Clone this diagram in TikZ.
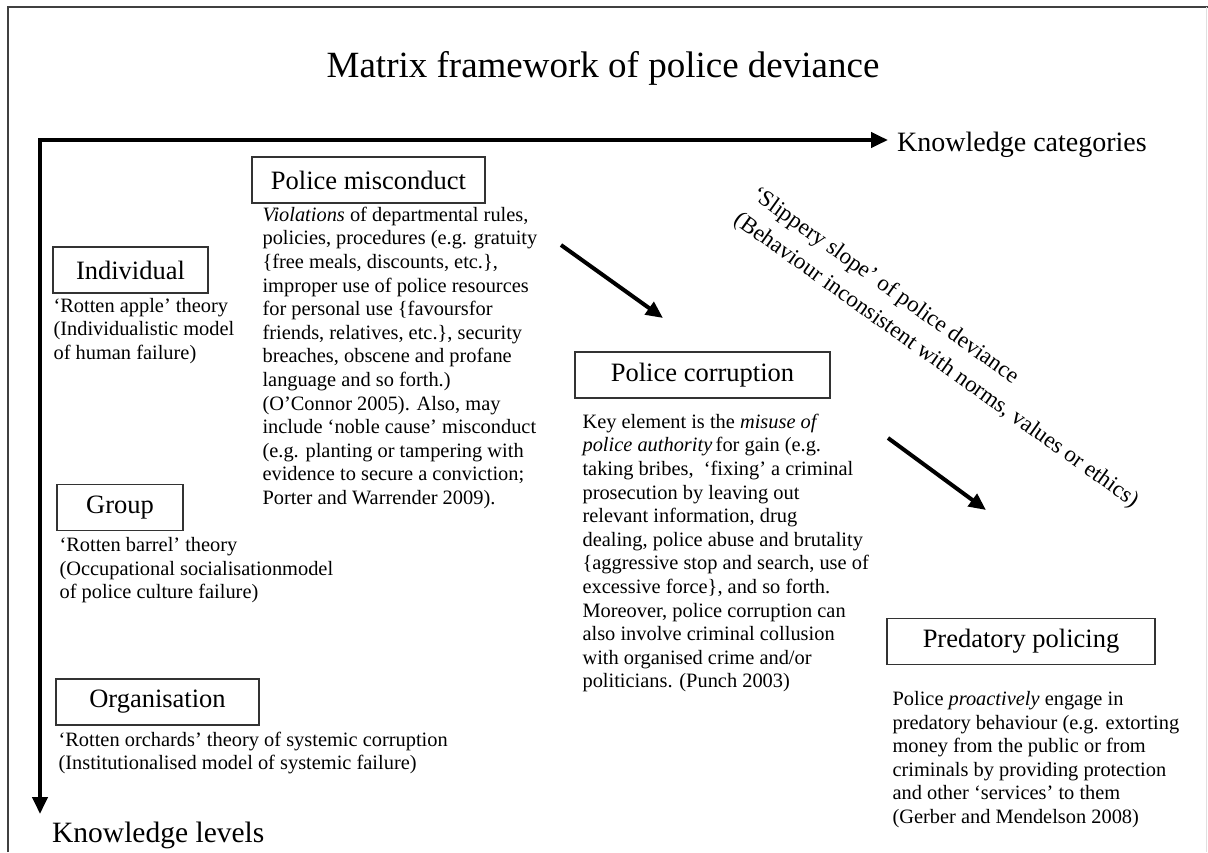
\documentclass[tikz,border=0pt]{standalone}
\usepackage{fontspec}
\setmainfont{Liberation Serif}
\usetikzlibrary{arrows.meta,positioning}
\tikzset{%
  catbox/.style   = {rectangle, draw=black!80, line width=1.3pt, minimum height=46pt, inner sep=0pt, font=\fontsize{26.5}{30}\selectfont},
  desc/.style     = {align=left, inner sep=0pt, font=\fontsize{20.4}{23.6}\selectfont},
  axislabel/.style= {inner sep=0pt, font=\fontsize{28}{32}\selectfont},
  bigarrow/.style = {line width=4pt, -{Triangle[length=17pt,width=15pt]}}
}

\begin{document}
\begin{tikzpicture}[x=1pt,y=-1pt]
	\useasboundingbox (0,0) rectangle (1208,852);
	% page frame
	\draw[black!75, line width=1.5pt] (8,852) -- (8,7) -- (1208,7);
	\draw[black!12, line width=1pt] (1206,7) -- (1206,852);

	\node[font=\fontsize{37}{44}\selectfont] (title) at (603,68) {Matrix framework of police deviance};

	% axes
	\coordinate (origin) at (40,140);
	\coordinate (catend) at (888,140);
	\coordinate (lvlend) at (40,814);
	\draw[line width=4pt, line join=miter, {Triangle[length=17pt,width=15pt]}-{Triangle[length=17pt,width=15pt]}] (catend) -- (origin) -- (lvlend);
	\node[axislabel, anchor=west] (cats) at (897,145) {Knowledge categories};
	\node[axislabel, anchor=west, font=\fontsize{29.5}{32}\selectfont] (lvls) at (52,835) {Knowledge levels};

	% knowledge levels
	\node[catbox, minimum width=155pt] (indiv) at (130.5,270) {Individual};
	\node[desc, below right=4pt and 1pt of indiv.south west] (indivtxt) {%
		`Rotten apple' theory\\
		(Individualistic model\\
		of human failure)};

	\node[catbox, minimum width=126pt] (group) at (120,507.5) {Group};
	\node[desc, below right=6pt and 3pt of group.south west] (grouptxt) {%
		`Rotten barrel' theory\\
		(Occupational socialisationmodel\\
		of police culture failure)};

	\node[catbox, minimum width=203pt] (org) at (157.5,702) {Organisation};
	\node[desc, below right=6pt and 3pt of org.south west] (orgtxt) {%
		`Rotten orchards' theory of systemic corruption\\
		(Institutionalised model of systemic failure)};

	% knowledge categories
	\node[catbox, minimum width=233pt] (misc) at (368.5,180) {Police misconduct};
	\node[desc, below right=3pt and 11pt of misc.south west] (misctxt) {%
		\textit{Violations} of departmental rules,\\
		policies, procedures (e.g. gratuity\\
		\{free meals, discounts, etc.\},\\
		improper use of police resources\\
		for personal use \{favoursfor\\
		friends, relatives, etc.\}, security\\
		breaches, obscene and profane\\
		language and so forth.)\\
		(O'Connor 2005). Also, may\\
		include `noble cause' misconduct\\
		(e.g. planting or tampering with\\
		evidence to secure a conviction;\\
		Porter and Warrender 2009).};

	\node[catbox, minimum width=255pt] (corr) at (702.5,375) {Police corruption};
	\node[desc, below right=15pt and 8pt of corr.south west] (corrtxt) {%
		Key element is the \textit{misuse of}\\
		\textit{police authority}\,for gain (e.g.\\
		taking bribes,\ \ `fixing' a criminal\\
		prosecution by leaving out\\
		relevant information, drug\\
		dealing, police abuse and brutality\\
		\{aggressive stop and search, use of\\
		excessive force\}, and so forth.\\
		Moreover, police corruption can\\
		also involve criminal collusion\\
		with organised crime and/or\\
		politicians. (Punch 2003)};

	\node[catbox, minimum width=268pt] (pred) at (1021,641.5) {Predatory policing};
	\node[desc, below right=26pt and 6pt of pred.south west] (predtxt) {%
		Police \textit{proactively} engage in\\
		predatory behaviour (e.g. extorting\\
		money from the public or from\\
		criminals by providing protection\\
		and other `services' to them\\
		(Gerber and Mendelson 2008)};

	% slippery slope
	\node[align=left, inner sep=0pt, rotate=-35.5, anchor=north west, font=\fontsize{23}{31}\selectfont] (slope) at (760,184) {%
		`Slippery slope' of police deviance\\
		(Behaviour inconsistent with norms, values or ethics)};

	\coordinate (s1a) at (561,245);
	\coordinate (s1b) at (663,318);
	\coordinate (s2a) at (888,438);
	\coordinate (s2b) at (986,510);
	\draw[bigarrow] (s1a) -- (s1b);
	\draw[bigarrow] (s2a) -- (s2b);
\end{tikzpicture}
\end{document}
